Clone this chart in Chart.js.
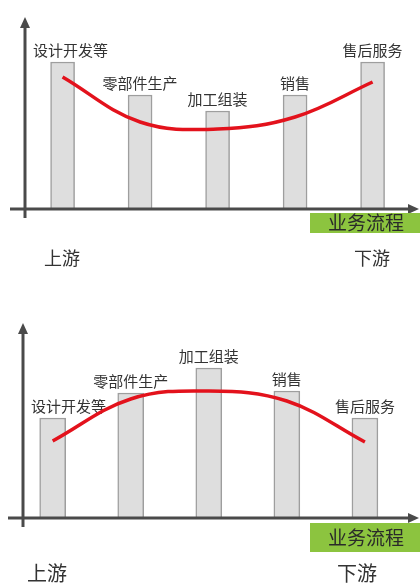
<!DOCTYPE html>
<html>
<head>
<meta charset="utf-8">
<script src="https://cdn.jsdelivr.net/npm/chart.js@4/dist/chart.umd.min.js"></script>
<style>
  body{margin:0;background:#fff;overflow:hidden}
  #wrap{position:relative;width:420px;height:583px}
  canvas{position:absolute;left:0}
</style>
</head>
<body>
<div id="wrap">
  <canvas id="smile" width="420" height="290" style="top:0"></canvas>
  <canvas id="hump" width="420" height="293" style="top:290px"></canvas>
</div>
<script>
// stages along the value chain (left = upstream, right = downstream)
const stages = ['设计开发等','零部件生产','加工组装','销售','售后服务'];
const stagePos = [1,2,3,4,5];

// top chart: smile curve
const smileBars = [147,114,98,114,147];
const smileCurve = [132,87,80,92,127];

// bottom chart: inverted curve
const humpBars = [100,125,150,127,100];
const humpCurve = [77,119,127,117,76];

const flowLabel = '业务流程';
const upLabel = '上游';
const downLabel = '下游';

const FONT = '"Noto Sans CJK SC", "Noto Sans", sans-serif';
const AXIS = '#4a4a4a';

// stage labels, axes with arrows, the green box and the up/down stream words
const decor = {
  id:'decor',
  beforeDatasetsDraw(chart){
    const ctx = chart.ctx, ca = chart.chartArea;
    const meta = chart.getDatasetMeta(0);
    ctx.save();
    ctx.font = '15px ' + FONT;
    ctx.fillStyle = '#333';
    ctx.textBaseline = 'middle';
    ctx.textAlign = 'left';
    meta.data.forEach((bar, i)=>{
      const txt = stages[i];
      const w = ctx.measureText(txt).width;
      let left = bar.x - w/2;
      if(left < ca.left + 8) left = ca.left + 8;
      if(left + w > chart.width - 10) left = chart.width - 10 - w;
      ctx.fillText(txt, left, bar.y - 12);
    });
    ctx.restore();
  },
  afterDatasetsDraw(chart, args, o){
    const ctx = chart.ctx, ca = chart.chartArea;
    const x0 = chart.scales.x.left;
    const y0 = chart.scales.y.getPixelForValue(0);
    ctx.save();
    ctx.strokeStyle = AXIS;
    ctx.fillStyle = AXIS;
    ctx.lineWidth = 3;
    // y axis
    ctx.beginPath();
    ctx.moveTo(x0, ca.top + 8);
    ctx.lineTo(x0, y0 + 9);
    ctx.stroke();
    ctx.beginPath();
    ctx.moveTo(x0, ca.top);
    ctx.lineTo(x0 - 5, ca.top + 11);
    ctx.lineTo(x0 + 5, ca.top + 11);
    ctx.closePath();
    ctx.fill();
    // x axis
    ctx.beginPath();
    ctx.moveTo(x0 - 15, y0);
    ctx.lineTo(ca.right - 8, y0);
    ctx.stroke();
    ctx.beginPath();
    ctx.moveTo(ca.right + 1, y0);
    ctx.lineTo(ca.right - 10, y0 - 5);
    ctx.lineTo(ca.right - 10, y0 + 5);
    ctx.closePath();
    ctx.fill();

    // green process box
    ctx.fillStyle = '#8cc43f';
    ctx.fillRect(310, y0 + o.boxTop, chart.width - 310, o.boxH);
    ctx.fillStyle = '#2a2a2a';
    ctx.font = '19px ' + FONT;
    ctx.textAlign = 'center';
    ctx.textBaseline = 'middle';
    ctx.fillText(flowLabel, 366, y0 + o.boxTop + o.boxH/2);

    // upstream / downstream
    ctx.fillStyle = '#333';
    ctx.font = o.endFont + 'px ' + FONT;
    ctx.fillText(upLabel, o.upX, y0 + o.endDy);
    ctx.fillText(downLabel, o.downX, y0 + o.endDy);
    ctx.restore();
  }
};

function build(id, bars, curve, cfg){
  return new Chart(document.getElementById(id), {
    type:'bar',
    data:{
      datasets:[
        {
          type:'bar',
          data: stagePos.map((x,i)=>({x, y: bars[i]})),
          backgroundColor:'#dedede',
          borderColor:'#9e9e9e',
          borderWidth:1.5,
          barThickness: cfg.barW,
          order:1
        },
        {
          type:'line',
          data: stagePos.map((x,i)=>({x, y: curve[i]})),
          borderColor:'#e3121c',
          borderWidth:3.5,
          pointRadius:0,
          tension:0.38,
          fill:false,
          order:0
        }
      ]
    },
    options:{
      responsive:false,
      animation:false,
      layout:{ padding: cfg.pad },
      plugins:{
        legend:{ display:false },
        tooltip:{ enabled:false },
        decor: cfg.decor
      },
      scales:{
        x:{ type:'linear', display:false, offset:false, min: cfg.xMin, max: cfg.xMax },
        y:{ display:false, min:0, max: cfg.yMax }
      }
    },
    plugins:[decor]
  });
}

document.addEventListener('DOMContentLoaded', ()=>{
  build('smile', smileBars, smileCurve, {
    barW:24, xMin:0.515, xMax:5.586, yMax:192,
    pad:{ left:25, right:2, top:17, bottom:81 },
    decor:{ boxTop:4, boxH:20, endFont:18, upX:62, downX:372, endDy:49 }
  });
  build('hump', humpBars, humpCurve, {
    barW:26, xMin:0.62, xMax:5.68, yMax:195,
    pad:{ left:23, right:2, top:33, bottom:65 },
    decor:{ boxTop:5, boxH:29, endFont:20, upX:47, downX:357, endDy:55 }
  });
});
</script>
</body>
</html>
